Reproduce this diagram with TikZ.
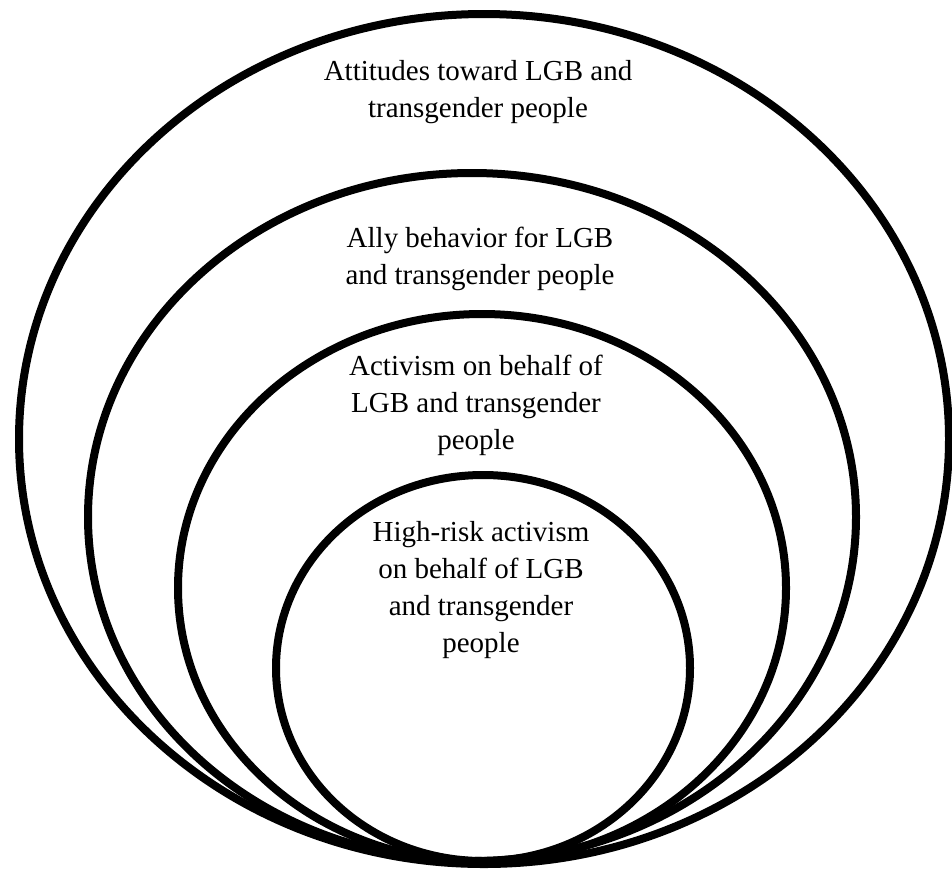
\documentclass[tikz,border=0pt]{standalone}
\usepackage{fontspec}
\setmainfont{Liberation Serif}
\usepackage{tikz}

\begin{document}
\begin{tikzpicture}[x=1pt,y=-1pt,
  ring/.style={line width=8pt},
  ringtext/.style={anchor=center,align=center,font=\fontsize{29}{37}\selectfont}]
  \useasboundingbox (0,0) rectangle (952,876);

  % Nested rings, all meeting at the bottom
  \draw[ring] (484,439) ellipse [x radius=465pt, y radius=425pt];
  \draw[ring] (472,517) ellipse [x radius=384pt, y radius=344pt];
  \draw[ring] (482,588) ellipse [x radius=304pt, y radius=274pt];
  \draw[ring] (483,668) ellipse [x radius=207pt, y radius=193pt];

  % Labels
  \node[ringtext] (attitudes) at (478,92) {Attitudes toward LGB and\\transgender people};
  \node[ringtext] (ally) at (480,259) {Ally behavior for LGB\\and transgender people};
  \node[ringtext] (activism) at (476,405) {Activism on behalf of\\LGB and transgender\\people};
  \node[ringtext] (highrisk) at (481,590) {High-risk activism\\on behalf of LGB\\and transgender\\people};
\end{tikzpicture}
\end{document}
